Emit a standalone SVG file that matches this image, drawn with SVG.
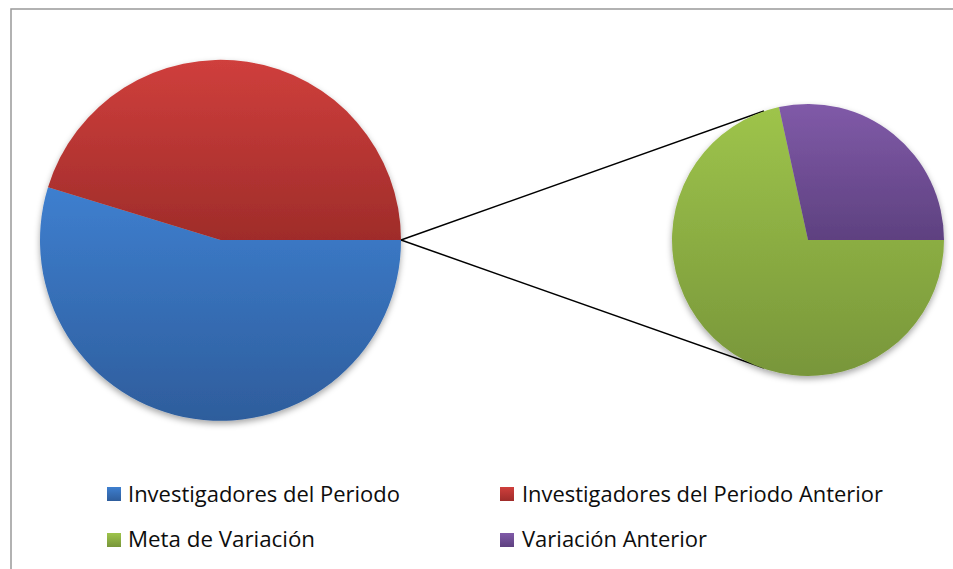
<svg xmlns="http://www.w3.org/2000/svg" width="953" height="569" viewBox="0 0 953 569">
<style>
.lbl{font-family:"Open Sans","Liberation Sans",Arial,sans-serif;font-size:21.5px;fill:#0d0d0d}
.conn{stroke:#000;stroke-width:1.5;fill:none}
</style>
<defs>
<linearGradient id="gRed" x1="0" y1="0" x2="0" y2="1"><stop offset="0" stop-color="#cf3f3c"/><stop offset="1" stop-color="#9f2c2a"/></linearGradient>
<linearGradient id="gBlue" x1="0" y1="0" x2="0" y2="1"><stop offset="0" stop-color="#3e7fcf"/><stop offset="1" stop-color="#2e5d9c"/></linearGradient>
<linearGradient id="gGreen" x1="0" y1="0" x2="0" y2="1"><stop offset="0" stop-color="#9ec44b"/><stop offset="1" stop-color="#78963a"/></linearGradient>
<linearGradient id="gPurple" x1="0" y1="0" x2="0" y2="1"><stop offset="0" stop-color="#805aa8"/><stop offset="1" stop-color="#5e4180"/></linearGradient>
<filter id="sh" x="-10%" y="-10%" width="120%" height="125%"><feDropShadow dx="0" dy="3" stdDeviation="3" flood-color="#000" flood-opacity="0.35"/></filter>
</defs>
<rect width="953" height="569" fill="#fff"/>
<path d="M11 569 V9 H953" fill="none" stroke="#999" stroke-width="1.5"/>
<g id="connectors">
<line class="conn" x1="401" y1="240" x2="764" y2="111"/>
<line class="conn" x1="401" y1="240" x2="764" y2="368"/>
</g>
<g id="pie-main" filter="url(#sh)">
<g id="slice-investigadores-periodo"><path d="M220.5 240 L401 240 A180.5 180.5 0 1 1 48 187.2 Z" fill="url(#gBlue)"/></g>
<g id="slice-investigadores-anterior"><path d="M220.5 240 L48 187.2 A180.5 180.5 0 0 1 401 240 Z" fill="url(#gRed)"/></g>
</g>
<g id="pie-secondary" filter="url(#sh)">
<g id="slice-meta-variacion"><path d="M808 240 L944 240 A136 136 0 1 1 779 107.1 Z" fill="url(#gGreen)"/></g>
<g id="slice-variacion-anterior"><path d="M808 240 L779 107.1 A136 136 0 0 1 944 240 Z" fill="url(#gPurple)"/></g>
</g>
<g id="legend">
<g id="legend-1"><rect x="107" y="487" width="14" height="14" fill="url(#gBlue)"/><text class="lbl" x="128" y="502" textLength="272" lengthAdjust="spacingAndGlyphs">Investigadores del Periodo</text></g>
<g id="legend-2"><rect x="500" y="487" width="14" height="14" fill="url(#gRed)"/><text class="lbl" x="522" y="502" textLength="361" lengthAdjust="spacingAndGlyphs">Investigadores del Periodo Anterior</text></g>
<g id="legend-3"><rect x="107" y="533" width="14" height="14" fill="url(#gGreen)"/><text class="lbl" x="128" y="547" textLength="187" lengthAdjust="spacingAndGlyphs">Meta de Variación</text></g>
<g id="legend-4"><rect x="500" y="533" width="14" height="14" fill="url(#gPurple)"/><text class="lbl" x="522" y="547" textLength="185" lengthAdjust="spacingAndGlyphs">Variación Anterior</text></g>
</g>
</svg>
